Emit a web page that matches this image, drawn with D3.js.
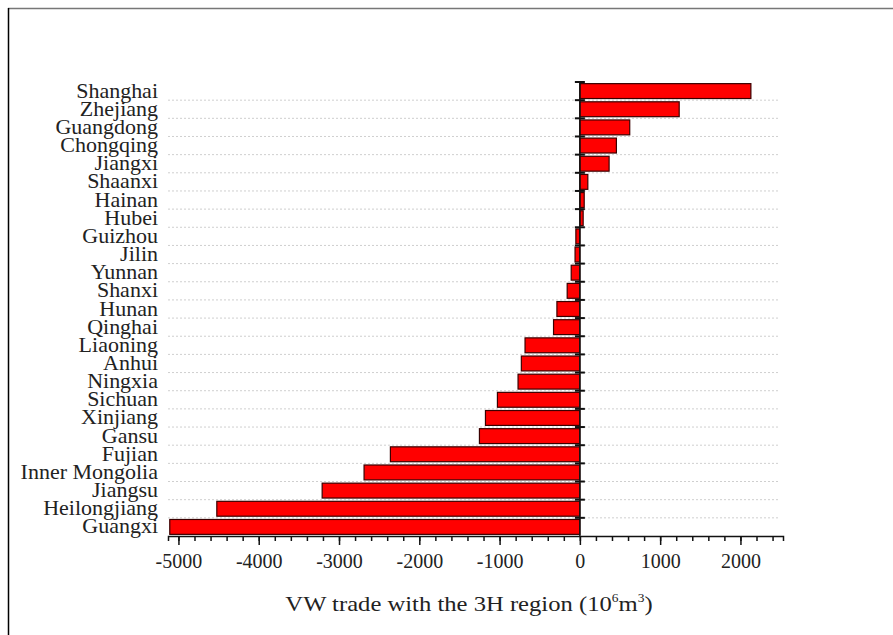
<!DOCTYPE html>
<html>
<head>
<meta charset="utf-8">
<script src="https://cdn.jsdelivr.net/npm/d3@7"></script>
<style>
  body { margin: 0; background: #fff; }
  text { font-family: "Liberation Serif", "Times New Roman", serif; fill: #222; }
</style>
</head>
<body>
<svg id="chart"></svg>
<script>
// provinces, top to bottom
const provinces = ["Shanghai", "Zhejiang", "Guangdong", "Chongqing", "Jiangxi", "Shaanxi",
  "Hainan", "Hubei", "Guizhou", "Jilin", "Yunnan", "Shanxi", "Hunan", "Qinghai",
  "Liaoning", "Anhui", "Ningxia", "Sichuan", "Xinjiang", "Gansu", "Fujian",
  "Inner Mongolia", "Jiangsu", "Heilongjiang", "Guangxi"];
// VW trade with the 3H region (10^6 m^3)
const vwTrade = [2130, 1237, 621, 455, 364, 99, 54, 41, -50, -60, -108, -158, -286, -328,
  -683, -729, -770, -1027, -1176, -1251, -2360, -2688, -3210, -4522, -5108];
const majorTicks = [-5000, -4000, -3000, -2000, -1000, 0, 1000, 2000];

const width = 893;
const height = 635;

const svg = d3.select("#chart")
  .attr("width", width)
  .attr("height", height);

// frame lines of the figure
svg.append("line").attr("x1", 8).attr("x2", width).attr("y1", 8.5).attr("y2", 8.5)
  .attr("stroke", "#777").attr("stroke-width", 1.5);
svg.append("line").attr("x1", 8.5).attr("x2", 8.5).attr("y1", 8).attr("y2", height)
  .attr("stroke", "#000").attr("stroke-width", 1.5);

const xScale = d3.scaleLinear()
  .domain([-5130, 2530])
  .range([168, 783]);

const yScale = d3.scaleBand()
  .domain(provinces)
  .range([82, 536])
  .paddingInner(0.18)
  .paddingOuter(0.09);

const step = yScale.step();
const boundaries = d3.range(provinces.length + 1).map(i => 82 + i * step);

// dotted gridlines between categories
svg.append("g")
  .selectAll("line")
  .data(boundaries.slice(1, -1))
  .enter()
  .append("line")
  .attr("x1", 168)
  .attr("x2", 780)
  .attr("y1", d => d)
  .attr("y2", d => d)
  .attr("stroke", "#cfcfcf")
  .attr("stroke-width", 1)
  .attr("stroke-dasharray", "2,2");

// bars
svg.append("g")
  .selectAll("rect")
  .data(provinces)
  .enter()
  .append("rect")
  .attr("x", (d, i) => xScale(Math.min(0, vwTrade[i])))
  .attr("y", d => yScale(d))
  .attr("width", (d, i) => Math.abs(xScale(vwTrade[i]) - xScale(0)))
  .attr("height", yScale.bandwidth())
  .attr("fill", "#ff0000")
  .attr("stroke", "#3a0000")
  .attr("stroke-width", 1.2);

// y axis at zero with crossing ticks
const x0 = xScale(0);
svg.append("line")
  .attr("x1", x0).attr("x2", x0)
  .attr("y1", 82).attr("y2", 536)
  .attr("stroke", "#111").attr("stroke-width", 1.5);
svg.append("g")
  .selectAll("line")
  .data(boundaries.slice(0, -1))
  .enter()
  .append("line")
  .attr("x1", x0 - 5)
  .attr("x2", x0 + 5)
  .attr("y1", d => d)
  .attr("y2", d => d)
  .attr("stroke", "#111")
  .attr("stroke-width", 2);

// category labels
svg.append("g")
  .selectAll("g")
  .data(provinces)
  .enter()
  .append("g")
  .attr("transform", d => `translate(158, ${yScale(d) + yScale.bandwidth() / 2 + 6.5}) scale(1.1, 1)`)
  .append("text")
  .attr("text-anchor", "end")
  .attr("font-size", 20)
  .text(d => d);

// x axis: minor ticks every 200, major every 1000
const xAxis = d3.axisBottom(xScale)
  .tickValues(d3.range(-5000, 2401, 200))
  .tickSize(5)
  .tickFormat("");
svg.append("g")
  .attr("transform", "translate(0, 536)")
  .call(xAxis)
  .call(g => g.select(".domain").attr("stroke", "#111").attr("stroke-width", 1.5))
  .call(g => g.selectAll(".tick line").attr("stroke", "#111").attr("stroke-width", 1.5));

const xAxisMajor = d3.axisBottom(xScale)
  .tickValues(majorTicks)
  .tickSize(9)
  .tickPadding(9)
  .tickFormat(d => String(d));
svg.append("g")
  .attr("transform", "translate(0, 536)")
  .call(xAxisMajor)
  .call(g => g.select(".domain").remove())
  .call(g => g.selectAll(".tick line").attr("stroke", "#111").attr("stroke-width", 1.5))
  .call(g => g.selectAll(".tick text")
    .attr("font-family", "'Liberation Serif', 'Times New Roman', serif")
    .attr("font-size", 20)
    .attr("fill", "#222"));

// axis title
const title = svg.append("g")
  .attr("transform", "translate(469, 611) scale(1.12, 1)")
  .append("text")
  .attr("text-anchor", "middle")
  .attr("font-size", 22);
title.append("tspan").text("VW trade with the 3H region (10");
title.append("tspan").attr("font-size", 12).attr("dy", -9).text("6");
title.append("tspan").attr("dy", 9).text("m");
title.append("tspan").attr("font-size", 12).attr("dy", -9).text("3");
title.append("tspan").attr("dy", 9).text(")");
</script>
</body>
</html>
